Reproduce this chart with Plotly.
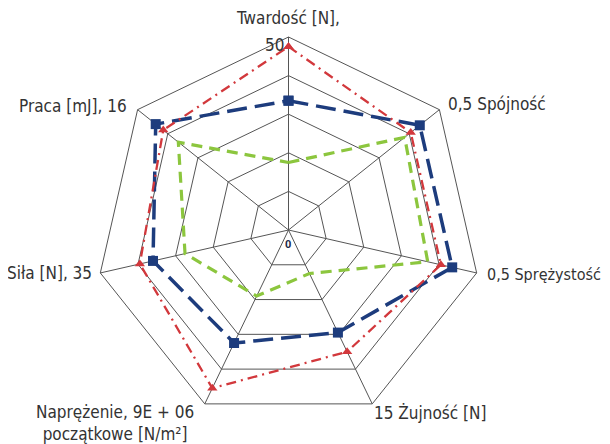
import plotly.graph_objects as go

categories = ["Twardość", "Spójność", "Sprężystość", "Żujność",
              "Naprężenie początkowe", "Siła", "Praca"]
red_values = [0.95, 0.81, 0.81, 0.70, 0.91, 0.79, 0.83]
blue_values = [0.67, 0.87, 0.87, 0.59, 0.65, 0.72, 0.88]
green_values = [0.35, 0.77, 0.74, 0.25, 0.38, 0.55, 0.73]
ring_values = [0.2, 0.4, 0.6, 0.8, 1.0]

FONT = "Liberation Sans Narrow, DejaVu Sans Condensed, Roboto, sans-serif"
TXT = "#333333"

def closed(v):
    return v + v[:1]

fig = go.Figure()
fig.add_trace(go.Scatterpolar(
    r=closed(green_values), theta=closed(categories), mode="lines",
    line=dict(color="#8cc63e", width=3.2, dash="11px,7px"), showlegend=False))
fig.add_trace(go.Scatterpolar(
    r=closed(blue_values), theta=closed(categories), mode="lines+markers",
    line=dict(color="#1d3c7d", width=3.5, dash="20px,8px"),
    marker=dict(symbol="square", size=10, color="#1d3c7d"), showlegend=False))
fig.add_trace(go.Scatterpolar(
    r=closed(red_values), theta=closed(categories), mode="lines+markers",
    line=dict(color="#d2383c", width=2.3, dash="10px,5px,2px,5px"),
    marker=dict(symbol="triangle-up", size=9, color="#d2383c"), showlegend=False))

# page has an 8px body margin: work in page pixels, convert to figure pixels
OFF = 8
W, H = 602, 436
cx, cy, R = 288.5 - OFF, 230 - OFF, 193
fig.update_layout(
    width=W, height=H, margin=dict(l=0, r=0, t=0, b=0),
    paper_bgcolor="white", plot_bgcolor="white",
    polar=dict(
        domain=dict(x=[(cx - R) / W, (cx + R) / W], y=[(H - cy - R) / H, (H - cy + R) / H]),
        gridshape="linear", bgcolor="white",
        radialaxis=dict(range=[0, 1], tickvals=ring_values, showticklabels=False,
                        ticks="", showline=False, gridcolor="#555555", gridwidth=1,
                        layer="below traces"),
        angularaxis=dict(rotation=90, direction="clockwise", showticklabels=False,
                         ticks="", linecolor="#555555", linewidth=1,
                         gridcolor="#555555", gridwidth=1, layer="below traces"),
    ),
    font=dict(family=FONT, size=17, color=TXT),
)

def px(x, y):
    return (x - OFF) / W, 1 - (y - OFF) / H

labels = [
    ("Twardość [N],", 288, 18, "center", 17),
    ("50", 286, 45, "right", 17),
    ("0,5 Spójność", 446, 104, "left", 17),
    ("0,5 Sprężystość", 485, 274, "left", 16),
    ("15 Żujność [N]", 372, 413, "left", 17),
    ("Siła [N], 35", 94, 273, "right", 17),
    ("Praca [mJ], 16", 129, 106, "right", 17),
]
for text, x, y, anchor, size in labels:
    ax, ay = px(x, y)
    fig.add_annotation(text=text, x=ax, y=ay, xref="paper", yref="paper",
                       xanchor=anchor, yanchor="middle", showarrow=False,
                       font=dict(family=FONT, size=size, color=TXT))
ax, ay = px(196, 423)
fig.add_annotation(text="Naprężenie, 9E + 06<br>początkowe [N/m²]", x=ax, y=ay,
                   xref="paper", yref="paper", xanchor="right", yanchor="middle",
                   align="center", showarrow=False,
                   font=dict(family=FONT, size=17, color=TXT))
ax, ay = px(288, 244)
fig.add_annotation(text="<b>0</b>", x=ax, y=ay, xref="paper", yref="paper",
                   xanchor="center", yanchor="middle", showarrow=False,
                   font=dict(family="Roboto, sans-serif", size=11, color="#1d2a4a"))

fig.write_html("out.html")
